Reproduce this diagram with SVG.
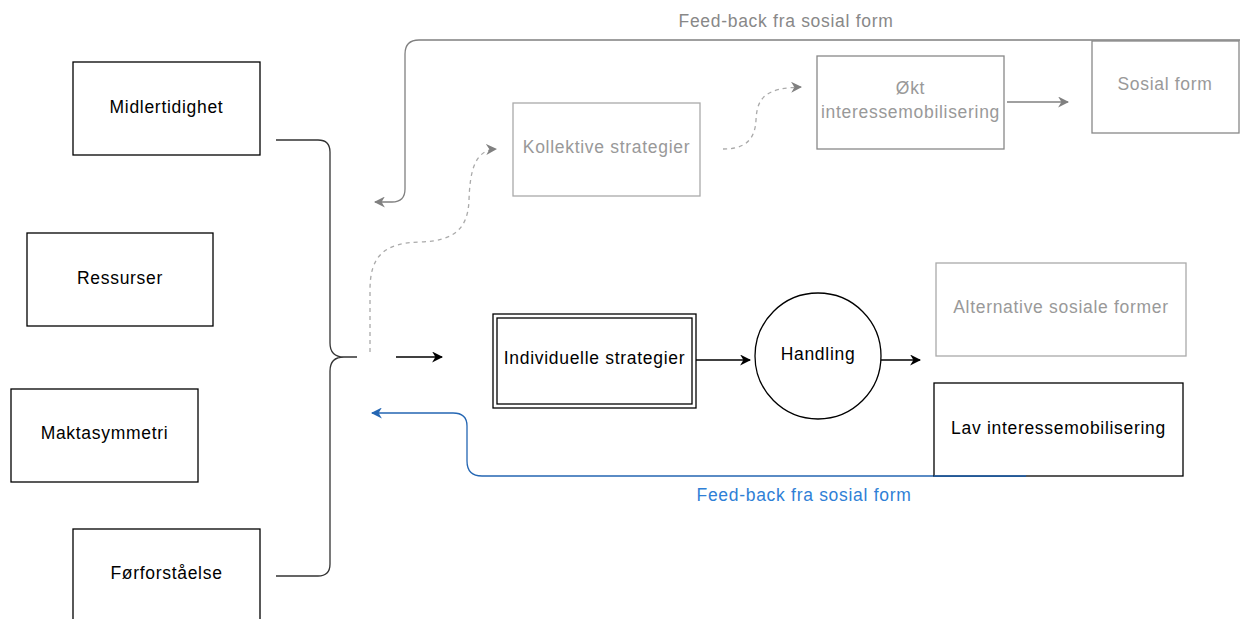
<svg xmlns="http://www.w3.org/2000/svg" width="1240" height="619" viewBox="0 0 1240 619">
  <style>
    .t { font-family: "Liberation Sans", Arial, sans-serif; font-size: 17.5px; letter-spacing: 0.7px; text-anchor: middle; }
    .dark { fill: #000; }
    .grey { fill: #999; }
    .box { fill: #fff; stroke: #000; stroke-width: 1.3; }
    .gbox { fill: #fff; stroke: #999; stroke-width: 1.3; }
    .edge { fill: none; stroke: #000; stroke-width: 1.3; }
    .gedge { fill: none; stroke: #808080; stroke-width: 1.3; }
    .dash { fill: none; stroke: #aaa; stroke-width: 1.3; stroke-dasharray: 4 4; }
    .blue { fill: none; stroke: #2466b3; stroke-width: 1.3; }
  </style>
  <defs>
    <marker id="aBlack" viewBox="0 0 10 10" refX="9" refY="5" markerWidth="11" markerHeight="11" markerUnits="userSpaceOnUse" orient="auto">
      <path d="M0,0 L10,5 L0,10 L3,5 z" fill="#000"/>
    </marker>
    <marker id="aGrey" viewBox="0 0 10 10" refX="9" refY="5" markerWidth="11" markerHeight="11" markerUnits="userSpaceOnUse" orient="auto">
      <path d="M0,0 L10,5 L0,10 L3,5 z" fill="#808080"/>
    </marker>
    <marker id="aBlue" viewBox="0 0 10 10" refX="9" refY="5" markerWidth="11" markerHeight="11" markerUnits="userSpaceOnUse" orient="auto">
      <path d="M0,0 L10,5 L0,10 L3,5 z" fill="#2466b3"/>
    </marker>
  </defs>

  <rect width="1240" height="619" fill="#fff"/>

  <!-- connectors -->
  <g id="connectors">
    <!-- brace gathering the four factors -->
    <path class="edge" d="M276,140 H318 Q330,140 330,152 V343 Q330,357 344,357 H357 M344,357 Q330,357 330,371 V564 Q330,576 318,576 H276" style="stroke:#333"/>
    <!-- brace to individual strategies -->
    <path class="edge" marker-end="url(#aBlack)" d="M396,357 H442"/>
    <!-- dashed path to collective strategies -->
    <path class="dash" marker-end="url(#aGrey)" d="M370,352 V290 C370,255 385,243 420,242 C455,241 468,228 469,200 C470,170 475,150 496,149"/>
    <!-- dashed path to increased mobilisation -->
    <path class="dash" marker-end="url(#aGrey)" d="M723,149 C745,149 755,140 756,120 C757,98 765,88 801,87"/>
    <!-- increased mobilisation to social form -->
    <path class="gedge" marker-end="url(#aGrey)" d="M1007,102 H1068"/>
    <!-- grey feedback loop -->
    <path class="gedge" marker-end="url(#aGrey)" d="M1240,40 H419 Q405,40 405,54 V189 Q405,202 392,202 H375"/>
    <!-- individual strategies to action -->
    <path class="edge" marker-end="url(#aBlack)" d="M696,360 H750"/>
    <!-- action onwards -->
    <path class="edge" marker-end="url(#aBlack)" d="M881,360 H920"/>
    <!-- blue feedback loop -->
    <path class="blue" marker-end="url(#aBlue)" d="M1026,476 H482 Q467,476 467,461 V426 Q467,413 453,413 H372"/>
  </g>

  <!-- labels on connectors -->
  <text class="t" x="786" y="27" fill="#888">Feed-back fra sosial form</text>
  <text class="t" x="804" y="501" fill="#2f7fd6">Feed-back fra sosial form</text>

  <!-- factor nodes -->
  <g id="midlertidighet">
    <rect class="box" x="73" y="62" width="187" height="93"/>
    <text class="t dark" x="166.5" y="113">Midlertidighet</text>
  </g>
  <g id="ressurser">
    <rect class="box" x="27" y="233" width="186" height="93"/>
    <text class="t dark" x="120" y="284">Ressurser</text>
  </g>
  <g id="maktasymmetri">
    <rect class="box" x="11" y="389" width="187" height="93"/>
    <text class="t dark" x="104.5" y="439">Maktasymmetri</text>
  </g>
  <g id="forforstaelse">
    <rect class="box" x="73" y="529" width="187" height="93"/>
    <text class="t dark" x="166.5" y="579">Førforståelse</text>
  </g>

  <!-- strategy nodes -->
  <g id="kollektive">
    <rect class="gbox" x="513" y="103" width="187" height="93" style="stroke:#aaa"/>
    <text class="t grey" x="606.5" y="153">Kollektive strategier</text>
  </g>
  <g id="individuelle">
    <rect class="box" x="493" y="314" width="203" height="94"/>
    <rect class="box" x="497" y="318" width="195" height="86"/>
    <text class="t dark" x="594.5" y="364">Individuelle strategier</text>
  </g>

  <!-- outcome nodes -->
  <g id="okt">
    <rect class="gbox" x="817" y="56" width="187" height="93" style="stroke:#888"/>
    <text class="t grey" x="910.5" y="94">Økt</text>
    <text class="t grey" x="910.5" y="118">interessemobilisering</text>
  </g>
  <g id="sosialform">
    <rect class="gbox" x="1092" y="41" width="147" height="92" style="stroke:#888"/>
    <text class="t grey" x="1165" y="90">Sosial form</text>
  </g>
  <g id="handling">
    <circle class="box" cx="818" cy="356" r="63"/>
    <text class="t dark" x="818" y="360">Handling</text>
  </g>
  <g id="alternative">
    <rect class="gbox" x="936" y="263" width="250" height="93" style="stroke:#aaa"/>
    <text class="t grey" x="1061" y="313">Alternative sosiale former</text>
  </g>
  <g id="lav">
    <rect class="box" x="934" y="383" width="249" height="93"/>
    <text class="t dark" x="1058.5" y="434">Lav interessemobilisering</text>
  </g>
  <!-- blue line runs over the lower edge of the low mobilisation box -->
  <path class="blue" d="M1026,476 H934"/>
</svg>
